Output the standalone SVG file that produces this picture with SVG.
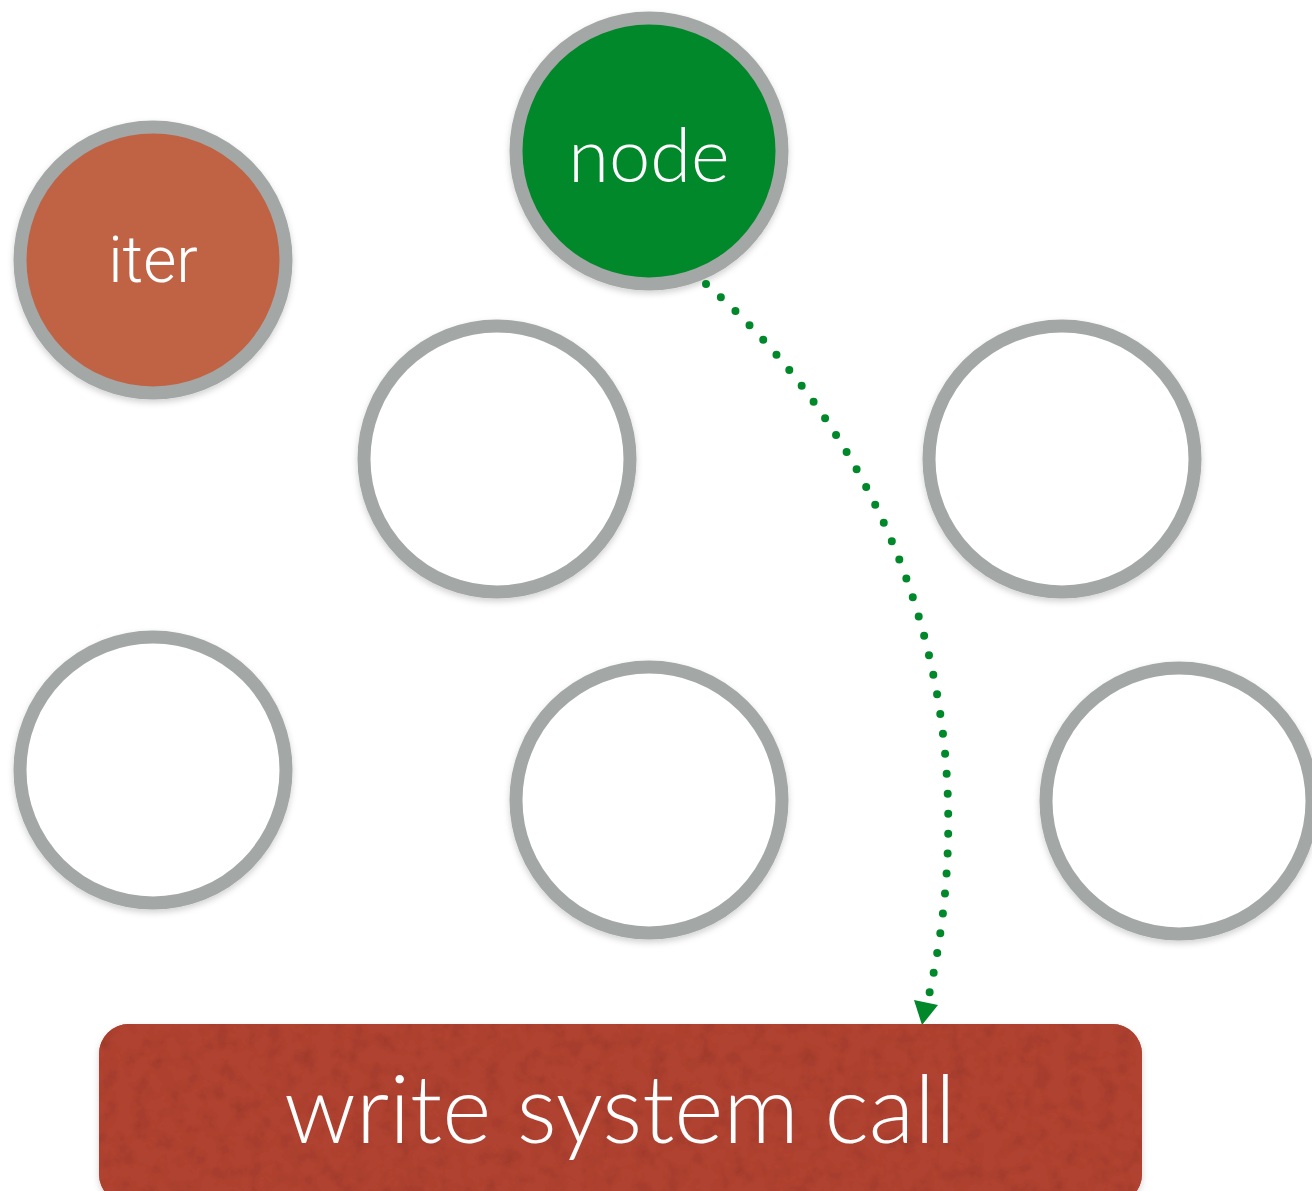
<svg xmlns="http://www.w3.org/2000/svg" width="1312" height="1191" viewBox="0 0 1312 1191">
  <style>
    .ring { fill: #ffffff; stroke: #a3a7a6; stroke-width: 13; }
    .lbl { fill: #ffffff; text-anchor: middle; font-family: Lato, "Open Sans", sans-serif; font-weight: 300; }
    .link { fill: none; stroke: #00882a; stroke-width: 8; stroke-linecap: round; stroke-dasharray: 0 20; }
  </style>
  <defs>
    <filter id="soft" x="-10%" y="-10%" width="120%" height="125%">
      <feDropShadow dx="0" dy="3" stdDeviation="3" flood-color="#000000" flood-opacity="0.18"/>
    </filter>
    <filter id="grain" x="-5%" y="-10%" width="110%" height="130%">
      <feTurbulence type="fractalNoise" baseFrequency="0.06" numOctaves="3" seed="4" result="noise"/>
      <feColorMatrix in="noise" type="matrix" values="0 0 0 0 0  0 0 0 0 0  0 0 0 0 0  0 0 0 -0.4 0.22" result="speck"/>
      <feComposite in="speck" in2="SourceGraphic" operator="in" result="dark"/>
      <feMerge>
        <feMergeNode in="SourceGraphic"/>
        <feMergeNode in="dark"/>
      </feMerge>
    </filter>
  </defs>

  <rect width="1312" height="1191" fill="#ffffff"/>

  <g id="node-iter" filter="url(#soft)">
    <circle class="ring" cx="153" cy="260" r="133" style="fill:#c06345"/>
    <text class="lbl" x="153" y="282" font-size="64" style="font-family: Roboto, 'Liberation Sans', sans-serif;">iter</text>
  </g>

  <g id="node-node" filter="url(#soft)">
    <circle class="ring" cx="649" cy="151" r="133" style="fill:#02882a"/>
    <text class="lbl" x="649" y="182" font-size="74">node</text>
  </g>

  <g id="node-a" filter="url(#soft)">
    <circle class="ring" cx="497" cy="459" r="133"/>
  </g>
  <g id="node-b" filter="url(#soft)">
    <circle class="ring" cx="1062" cy="459" r="133"/>
  </g>
  <g id="node-c" filter="url(#soft)">
    <circle class="ring" cx="153" cy="770" r="133"/>
  </g>
  <g id="node-d" filter="url(#soft)">
    <circle class="ring" cx="649" cy="800" r="133"/>
  </g>
  <g id="node-e" filter="url(#soft)">
    <circle class="ring" cx="1179" cy="801" r="133"/>
  </g>

  <g id="connectors">
    <path class="link" d="M706,284 C875,430 1000,690 927,1004"/>
    <path d="M914,1000 L938,1005 L922,1025 Z" fill="#00882a"/>
  </g>

  <g id="node-write">
    <rect x="99" y="1024" width="1043" height="180" rx="30" ry="30" fill="#b04333" filter="url(#soft)"/>
    <rect x="99" y="1024" width="1043" height="180" rx="30" ry="30" fill="#b04333" filter="url(#grain)"/>
    <text class="lbl" x="620" y="1143" font-size="94">write system call</text>
  </g>
</svg>
